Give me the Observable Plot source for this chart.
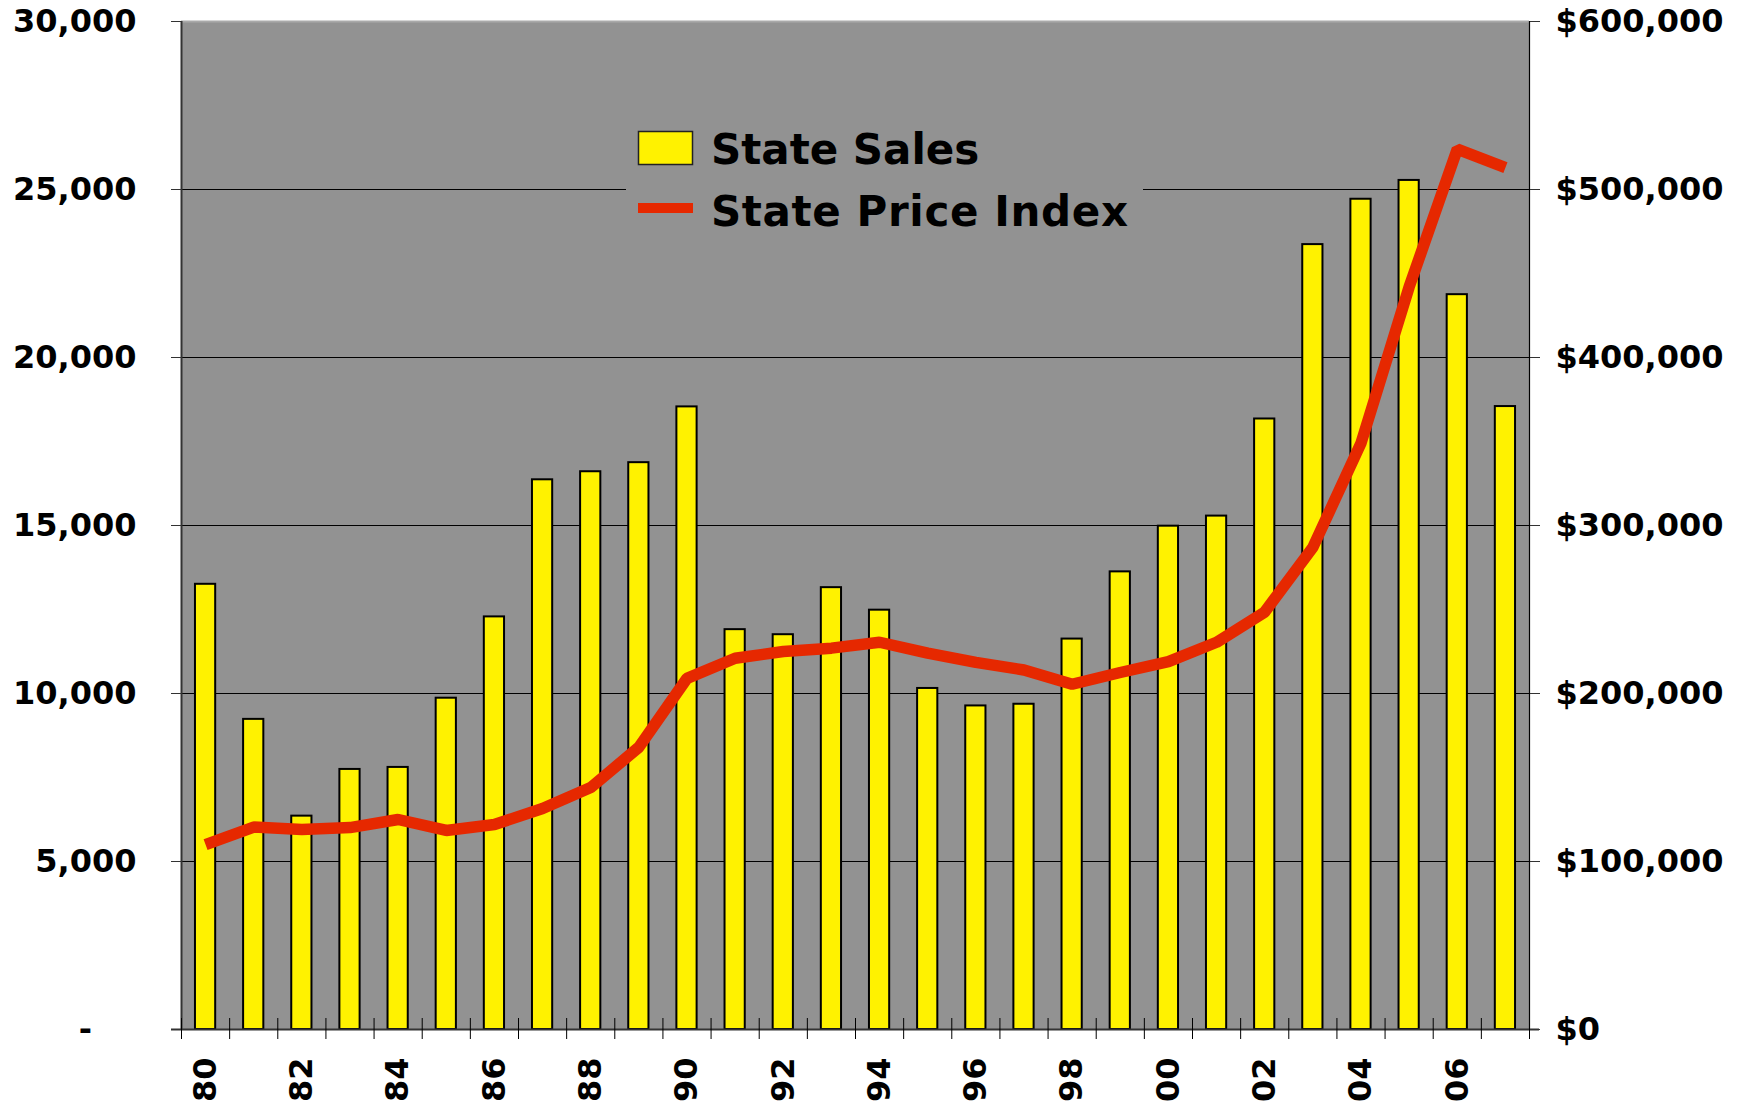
<!DOCTYPE html>
<html>
<head>
<meta charset="utf-8">
<script src="https://cdn.jsdelivr.net/npm/d3@7"></script>
<script src="https://cdn.jsdelivr.net/npm/@observablehq/plot@0.6"></script>
<style>
  html, body { margin: 0; padding: 0; background: #fff; }
  #wrap { position: relative; width: 1743px; height: 1104px; overflow: hidden; }
  #legend { position: absolute; left: 626px; top: 105px; width: 517px; height: 135px; background: #929292; }
</style>
</head>
<body>
<div id="wrap"></div>
<script>
// ---- data ----
const years = [1980,1981,1982,1983,1984,1985,1986,1987,1988,1989,1990,1991,1992,1993,1994,1995,1996,1997,1998,1999,2000,2001,2002,2003,2004,2005,2006,2007];
const stateSales = [13250,9230,6350,7740,7800,9860,12280,16360,16600,16870,18530,11900,11750,13150,12480,10150,9630,9680,11620,13620,14980,15280,18170,23360,24710,25270,21870,18540];
const statePriceIndex = [110000,120500,119000,120200,125000,118500,122000,131500,144000,168000,209000,221000,225000,227000,230500,224000,218500,214000,205500,212500,219000,230500,248500,287000,349000,442000,524000,513000];
const salesTicks = [0,5000,10000,15000,20000,25000,30000];
const priceTicks = [0,100000,200000,300000,400000,500000,600000];
const yearLabels = [1980,1982,1984,1986,1988,1990,1992,1994,1996,1998,2000,2002,2004,2006];
const seriesNames = ["State Sales", "State Price Index"];

const priceToSales = salesTicks[salesTicks.length-1] / priceTicks[priceTicks.length-1];
const data = years.map((y, i) => ({year: y, sales: stateSales[i], price: statePriceIndex[i]}));
const xDomain = [years[0] - 0.5, years[years.length-1] + 0.5];
const boundaries = d3.range(xDomain[0], xDomain[1] + 0.01, 1);
const halfBar = 0.21;

const W = 1743, H = 1104;
const mTop = 21, mBottom = 75, mLeft = 181, mRight = 214;
const innerH = H - mTop - mBottom;

const fmt = d3.format(",");
const chart = Plot.plot({
  width: W,
  height: H,
  marginTop: mTop,
  marginBottom: mBottom,
  marginLeft: mLeft,
  marginRight: mRight,
  style: {fontFamily: "'DejaVu Sans', Verdana, sans-serif", fontWeight: "bold", fontSize: "32px", color: "#000", background: "#fff", overflow: "visible"},
  x: {domain: xDomain, axis: null},
  y: {domain: [salesTicks[0], salesTicks[salesTicks.length-1]], axis: null},
  marks: [
    Plot.frame({fill: "#929292", stroke: null}),
    Plot.ruleY(salesTicks.slice(1, -1), {stroke: "#000", strokeWidth: 1}),
    Plot.ruleY(salesTicks.slice(-1), {stroke: "#a9a9a9", strokeWidth: 2}),
    Plot.rectY(data, {x1: d => d.year - halfBar, x2: d => d.year + halfBar, y: "sales", fill: "#fff200", stroke: "#000", strokeWidth: 2}),
    Plot.line(data, {x: "year", y: d => d.price * priceToSales, stroke: "#e62800", strokeWidth: 11.5, strokeLinejoin: "miter", strokeLinecap: "butt"}),
    Plot.ruleX([xDomain[0]], {stroke: "#333", strokeWidth: 2}),
    Plot.ruleX([xDomain[1]], {stroke: "#000", strokeWidth: 1.2}),
    Plot.ruleY([salesTicks[0]], {stroke: "#333", strokeWidth: 2, insetLeft: -10, insetRight: -10}),
    Plot.tickX(boundaries, {x: d => d, stroke: "#000", strokeWidth: 1, insetTop: innerH - 11, insetBottom: -10}),
    Plot.axisY({anchor: "left", ticks: salesTicks, tickSize: 10, tickPadding: 35, stroke: "#333",
      tickFormat: v => v === 0 ? "-\u2007\u2007" : fmt(v), label: null}),
    Plot.axisY({anchor: "right", ticks: salesTicks, tickSize: 10, tickPadding: 16, stroke: "#333",
      tickFormat: v => "$" + fmt(Math.round(v / priceToSales)), label: null}),
    Plot.axisX({anchor: "bottom", ticks: yearLabels, tickSize: 0, tickPadding: 28, tickRotate: -90,
      tickFormat: y => String(y).slice(2), label: null})
  ]
});

const wrap = document.getElementById("wrap");
wrap.appendChild(chart);

// legend overlay
const legend = document.createElement("div");
legend.id = "legend";
wrap.appendChild(legend);
const ls = d3.select(legend).append("svg").attr("width", 517).attr("height", 135)
  .style("font-family", "'DejaVu Sans', Verdana, sans-serif").style("font-weight", "bold").style("font-size", "42px");
ls.append("rect").attr("x", 12.5).attr("y", 26.5).attr("width", 54).attr("height", 33)
  .attr("fill", "#fff200").attr("stroke", "#222").attr("stroke-width", 1.5);
ls.append("text").attr("x", 85).attr("y", 59).text(seriesNames[0]);
ls.append("rect").attr("x", 12).attr("y", 98).attr("width", 55).attr("height", 10).attr("fill", "#e62800");
ls.append("text").attr("x", 85).attr("y", 121).attr("textLength", 417).text(seriesNames[1]);
</script>
</body>
</html>
